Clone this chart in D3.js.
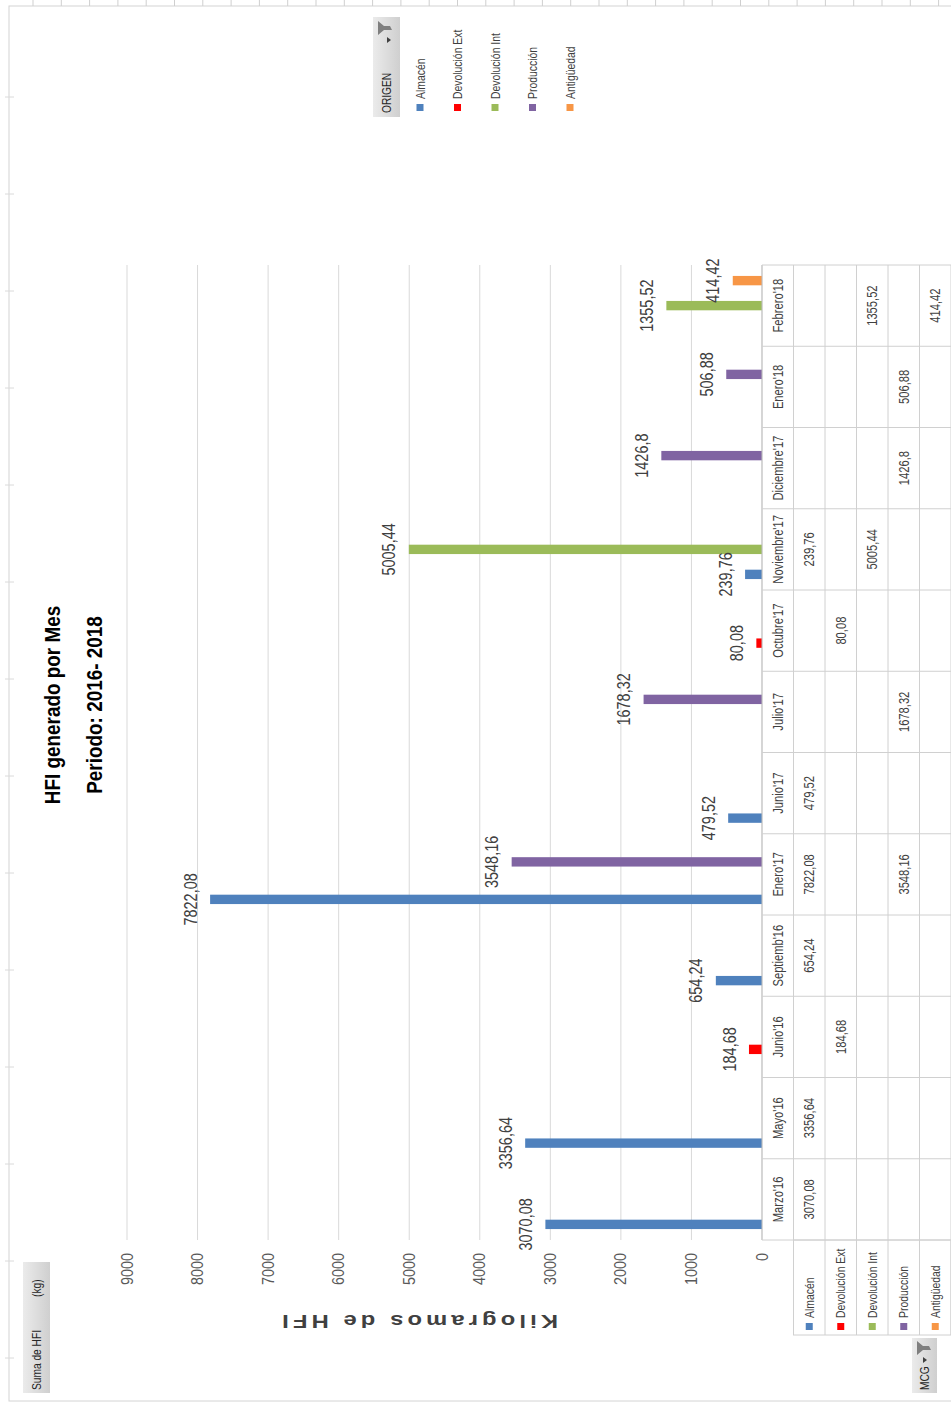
<!DOCTYPE html>
<html>
<head>
<meta charset="utf-8">
<script src="https://cdn.jsdelivr.net/npm/d3@7"></script>
<style>
  body { margin: 0; background: #fff; }
  svg { display: block; }
</style>
</head>
<body>
<div id="chart"></div>
<script>
// chart values
const categories = ["Marzo'16", "Mayo'16", "Junio'16", "Septiemb'16", "Enero'17", "Junio'17",
  "Julio'17", "Octubre'17", "Noviembre'17", "Diciembre'17", "Enero'18", "Febrero'18"];
const seriesNames = ['Almacén', 'Devolución Ext', 'Devolución Int', 'Producción', 'Antigüedad'];
const seriesColors = ['#4F81BD', '#FF0000', '#9BBB59', '#8064A2', '#F79646'];

const almacen    = [3070.08, 3356.64, null, 654.24, 7822.08, 479.52, null, null, 239.76, null, null, null];
const devExt     = [null, null, 184.68, null, null, null, null, 80.08, null, null, null, null];
const devInt     = [null, null, null, null, null, null, null, null, 5005.44, null, null, 1355.52];
const produccion = [null, null, null, null, 3548.16, null, 1678.32, null, null, 1426.8, 506.88, null];
const antiguedad = [null, null, null, null, null, null, null, null, null, null, null, 414.42];
const seriesValues = [almacen, devExt, devInt, produccion, antiguedad];

const valueTicks = [0, 1000, 2000, 3000, 4000, 5000, 6000, 7000, 8000, 9000];
const titleLines = ['HFI generado por Mes', 'Periodo: 2016- 2018'];
const axisTitle = 'Kilogramos de HFI';

const W = 951, H = 1403;
const FONT = '"Liberation Sans", Arial, sans-serif';
const fmt = v => String(v).replace('.', ',');

const svg = d3.select('#chart').append('svg')
  .attr('width', W)
  .attr('height', H);

// the chart is laid out upright (1403 wide, 951 tall) and turned a quarter turn
const g = svg.append('g')
  .attr('transform', `translate(0,${H}) rotate(-90)`);

// narrow text helper (the source picture has squeezed glyphs)
function addText(parent, x, y, str, size, opts = {}) {
  return parent.append('text')
    .attr('transform', `translate(${x},${y}) scale(${opts.sx || 0.82},1)`)
    .attr('text-anchor', opts.anchor || 'middle')
    .attr('dy', '0.35em')
    .style('font-family', FONT)
    .style('font-size', size + 'px')
    .style('font-weight', opts.bold ? 'bold' : 'normal')
    .style('fill', opts.color || '#404040')
    .text(str);
}

// chart area border + sheet marks
g.append('rect')
  .attr('x', 2).attr('y', 9)
  .attr('width', 1395).attr('height', 960)
  .attr('fill', 'none')
  .attr('stroke', '#d4d4d4');

// small sheet tick marks along the edges
d3.range(33, 951, 28.3).forEach(px => {
  g.append('line')
    .attr('x1', 1397).attr('x2', 1405)
    .attr('y1', px).attr('y2', px)
    .attr('stroke', '#cfcfcf');
});
d3.range(97, 1403, 97).forEach(py => {
  g.append('line')
    .attr('x1', H - py).attr('x2', H - py)
    .attr('y1', 5).attr('y2', 14)
    .attr('stroke', '#dadada');
});

// scales
const x0 = d3.scaleBand().domain(categories).range([163, 1138]);
const x1 = d3.scaleBand().domain(seriesNames)
  .range([0, x0.bandwidth()])
  .paddingInner(0.25)
  .paddingOuter(0.875);
const y = d3.scaleLinear().domain([0, 9000]).range([762, 127]);

// gridlines
g.append('g')
  .selectAll('line')
  .data(valueTicks)
  .enter()
  .append('line')
  .attr('x1', 163).attr('x2', 1138)
  .attr('y1', d => y(d)).attr('y2', d => y(d))
  .attr('stroke', '#d9d9d9')
  .attr('stroke-width', 1);

// value axis labels
valueTicks.forEach(t => {
  addText(g, 150, y(t), String(t), 16, { anchor: 'end', color: '#595959', sx: 0.9 });
});

// axis title (vertical in the upright chart)
g.append('text')
  .attr('transform', `translate(81,418) rotate(-90) scale(1.25,1)`)
  .attr('text-anchor', 'middle')
  .attr('dy', '0.35em')
  .style('font-family', FONT)
  .style('font-size', '19px')
  .style('font-weight', 'bold')
  .style('letter-spacing', '3.3px')
  .style('fill', '#404040')
  .text(axisTitle);

// title
titleLines.forEach((line, i) => {
  addText(g, 698, 52 + i * 42, line, 22, { bold: true, color: '#000', sx: 0.86 });
});

// bars
const barData = [];
seriesValues.forEach((vals, si) => {
  vals.forEach((v, ci) => {
    if (v != null) barData.push({ cat: categories[ci], ser: seriesNames[si], v: v, color: seriesColors[si] });
  });
});

g.append('g')
  .selectAll('rect')
  .data(barData)
  .enter()
  .append('rect')
  .attr('x', d => x0(d.cat) + x1(d.ser))
  .attr('y', d => y(d.v))
  .attr('width', x1.bandwidth())
  .attr('height', d => y(0) - y(d.v))
  .attr('fill', d => d.color);

// data labels
barData.forEach(d => {
  addText(g, x0(d.cat) + x1(d.ser) + x1.bandwidth() / 2, y(d.v) - 20, fmt(d.v), 19,
    { color: '#404040', sx: 0.76 });
});

// data table under the plot
const tableTop = 762, rowH = 31.5;
const table = g.append('g');
const rowsY = d3.range(7).map(i => tableTop + i * rowH);

// horizontal lines
rowsY.forEach((ry, i) => {
  table.append('line')
    .attr('x1', i === 0 ? 163 : 68).attr('x2', 1138)
    .attr('y1', ry).attr('y2', ry)
    .attr('stroke', i === 0 ? '#bfbfbf' : '#d0d0d0');
});
// vertical lines between months
categories.concat(['end']).forEach((c, i) => {
  const cx = i < categories.length ? x0(c) : 1138;
  table.append('line')
    .attr('x1', cx).attr('x2', cx)
    .attr('y1', tableTop).attr('y2', tableTop + 6 * rowH)
    .attr('stroke', '#d0d0d0');
});
// header box for series rows
table.append('rect')
  .attr('x', 68).attr('y', tableTop + rowH)
  .attr('width', 95).attr('height', 5 * rowH)
  .attr('fill', 'none')
  .attr('stroke', '#d0d0d0');

// month labels
categories.forEach(c => {
  addText(table, x0(c) + x0.bandwidth() / 2, tableTop + rowH / 2, c, 14, { color: '#404040', sx: 0.8 });
});

// series rows
seriesNames.forEach((s, si) => {
  const cy = tableTop + (si + 1) * rowH + rowH / 2;
  table.append('rect')
    .attr('x', 73).attr('y', cy - 3.5)
    .attr('width', 7).attr('height', 7)
    .attr('fill', seriesColors[si]);
  addText(table, 85, cy, s, 13, { anchor: 'start', color: '#404040', sx: 0.8 });
  seriesValues[si].forEach((v, ci) => {
    if (v == null) return;
    addText(table, x0(categories[ci]) + x0.bandwidth() / 2, cy, fmt(v), 14, { color: '#404040', sx: 0.8 });
  });
});

// field buttons (pivot chart)
function funnel(parent, fx, fy) {
  parent.append('path')
    .attr('d', `M${fx},${fy} h14 l-5,6 v6 l-4,2 v-8 z`)
    .attr('fill', '#7f7f7f');
}
function dropArrow(parent, ax, ay) {
  parent.append('path')
    .attr('d', `M${ax},${ay} h6 l-3,4 z`)
    .attr('fill', '#404040');
}

const grad = svg.append('defs').append('linearGradient')
  .attr('id', 'btn').attr('x1', 0).attr('x2', 0).attr('y1', 0).attr('y2', 1);
grad.append('stop').attr('offset', '0%').attr('stop-color', '#ebebeb');
grad.append('stop').attr('offset', '100%').attr('stop-color', '#cfcfcf');

// "Suma de HFI (kg)"
g.append('rect')
  .attr('x', 10).attr('y', 23).attr('width', 131).attr('height', 27)
  .attr('fill', 'url(#btn)');
addText(g, 13, 36.5, 'Suma de HFI', 12, { anchor: 'start', color: '#262626', sx: 0.85 });
addText(g, 106, 36.5, '(kg)', 12, { anchor: 'start', color: '#262626', sx: 0.85 });

// "MCG" field button
g.append('rect')
  .attr('x', 10).attr('y', 912).attr('width', 55).attr('height', 25)
  .attr('fill', 'url(#btn)');
addText(g, 13, 924.5, 'MCG', 12, { anchor: 'start', color: '#262626', sx: 0.85 });
dropArrow(g, 40, 923);
funnel(g, 48, 917);

// "ORIGEN" legend button and legend
g.append('rect')
  .attr('x', 1286).attr('y', 373).attr('width', 100).attr('height', 27)
  .attr('fill', 'url(#btn)');
addText(g, 1290, 386.5, 'ORIGEN', 12, { anchor: 'start', color: '#262626', sx: 0.85 });
dropArrow(g, 1360, 387);
funnel(g, 1368, 378);

seriesNames.forEach((s, si) => {
  const ly = 420 + si * 37.5;
  g.append('rect')
    .attr('x', 1292).attr('y', ly - 3.5)
    .attr('width', 7).attr('height', 7)
    .attr('fill', seriesColors[si]);
  addText(g, 1304, ly, s, 13, { anchor: 'start', color: '#404040', sx: 0.8 });
});
</script>
</body>
</html>
